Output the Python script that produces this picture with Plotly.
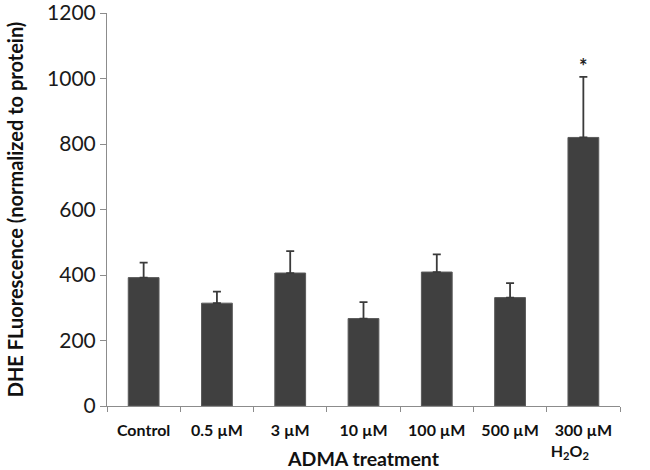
import plotly.graph_objects as go

categories = ["Control", "0.5 µM", "3 µM", "10 µM", "100 µM", "500 µM",
              "300 µM<br>H<sub>2</sub>O<sub>2</sub>\u00a0\u00a0\u00a0\u00a0\u00a0\u00a0\u00a0"]
values = [392, 314, 406, 267, 409, 331, 820]
errors = [46, 35, 67, 50, 54, 44, 185]
significance = ["", "", "", "", "", "", "*"]

y_max = 1200
y_step = 200

FONT = "Lato, Carlito, Calibri, 'Open Sans', sans-serif"

fig = go.Figure()
fig.add_trace(go.Bar(
    x=categories,
    y=values,
    marker=dict(color="#404040", line=dict(color="#5a5a5a", width=1)),
    error_y=dict(type="data", array=errors, arrayminus=[0] * len(errors),
                 symmetric=False, color="#3a3a3a", thickness=1.8, width=4),
    showlegend=False,
))

for c, v, e, s in zip(categories, values, errors, significance):
    if s:
        fig.add_annotation(x=c, y=v + e, text="<b>" + s + "</b>", showarrow=False,
                           yshift=11, font=dict(size=20, color="#222", family=FONT))

fig.update_layout(
    width=650, height=470,
    margin=dict(l=107, r=30, t=13, b=64, autoexpand=False),
    paper_bgcolor="white", plot_bgcolor="white",
    bargap=0.58,
    font=dict(family=FONT, color="#1a1a1a"),
)
fig.update_xaxes(
    type="category", automargin=False, tickangle=0, ticklabelstandoff=10,
    showline=True, linecolor="#8c8c8c", linewidth=1,
    ticks="outside", tickson="boundaries", ticklen=5, tickcolor="#8c8c8c",
    tickfont=dict(size=16, family=FONT, color="#111", weight="bold"),
    title=dict(text="<b>ADMA treatment</b>", font=dict(size=19.5, family=FONT, color="#111"),
               standoff=0),
    showgrid=False,
)
fig.update_yaxes(
    range=[0, y_max], tickmode="linear", tick0=0, dtick=y_step, automargin=False,
    ticklabeloverflow="allow",
    showline=True, linecolor="#8c8c8c", linewidth=1,
    ticks="outside", ticklen=6, tickcolor="#8c8c8c",
    tickfont=dict(size=21, family=FONT, color="#1a1a1a"),
    title=dict(text="<b>DHE FLuorescence (normalized to protein)</b>",
               font=dict(size=20, family=FONT, color="#111"), standoff=18),
    showgrid=False, zeroline=False,
)

fig.write_html("out.html", config={"displayModeBar": False},
               post_script="document.body.style.margin='0';document.body.style.padding='0';")
